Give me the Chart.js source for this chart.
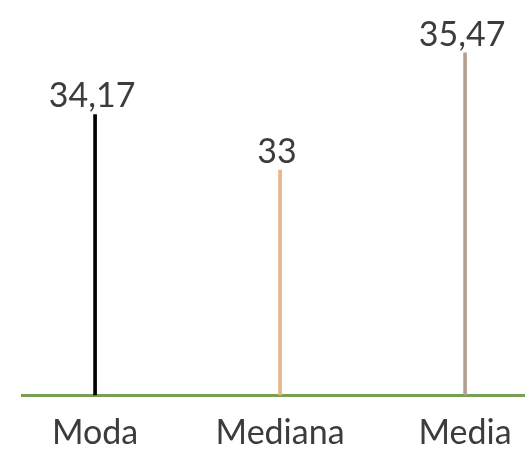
<!DOCTYPE html>
<html>
<head>
<meta charset="utf-8">
<script src="https://cdn.jsdelivr.net/npm/chart.js@4.4.1/dist/chart.umd.min.js"></script>
<style>
  html, body { margin: 0; padding: 0; background: #ffffff; }
  #grafico { display: block; }
</style>
</head>
<body>
<canvas id="grafico" width="525" height="449"></canvas>
<script>
// Misure di tendenza centrale
const categorie = ["Moda", "Mediana", "Media"];
const valori = [34.17, 33, 35.47];
const colori = ["#000000", "#e6b68a", "#b3a090"];

// Asse verticale: parte da sotto il valore minimo
const yMin = 28.25;
const yMax = 36.5;

const testoColore = "#3c3c3c";
const fontFamiglia = "Lato, 'Open Sans', sans-serif";

// Etichette dei valori sopra le linee
const etichetteValori = {
    id: 'etichetteValori',
    afterDatasetsDraw(chart) {
        const ctx = chart.ctx;
        const meta = chart.getDatasetMeta(0);
        ctx.save();
        ctx.font = "34px " + fontFamiglia;
        ctx.fillStyle = testoColore;
        ctx.textAlign = 'center';
        ctx.textBaseline = 'bottom';
        meta.data.forEach((el, i) => {
            const testo = String(valori[i]).replace('.', ',');
            ctx.fillText(testo, el.x - 3, el.y - 1);
        });
        ctx.restore();
    }
};

const ctx = document.getElementById('grafico').getContext('2d');

new Chart(ctx, {
    type: 'bar',
    data: {
        datasets: [{
            data: valori.map((v, i) => ({ x: i, y: v })),
            backgroundColor: colori,
            barThickness: 3,
            borderWidth: 0
        }]
    },
    options: {
        responsive: false,
        animation: false,
        layout: { padding: { top: 4, left: 22, right: 0, bottom: -21 } },
        plugins: {
            legend: { display: false },
            tooltip: { enabled: false }
        },
        scales: {
            x: {
                type: 'linear',
                offset: false,
                min: -0.395,
                max: 2.324,
                grid: { display: false, drawTicks: false },
                border: { display: true, color: '#77a055', width: 3 },
                afterBuildTicks(scale) {
                    scale.ticks = categorie.map((_, i) => ({ value: i }));
                },
                // la linea di base arriva fino al bordo destro
                afterFit(scale) {
                    scale.paddingRight = 0;
                },
                ticks: {
                    padding: 17,
                    color: testoColore,
                    font: { family: fontFamiglia, size: 34 },
                    callback: (v) => categorie[v]
                }
            },
            y: {
                display: false,
                min: yMin,
                max: yMax
            }
        }
    },
    plugins: [etichetteValori]
});
</script>
</body>
</html>
